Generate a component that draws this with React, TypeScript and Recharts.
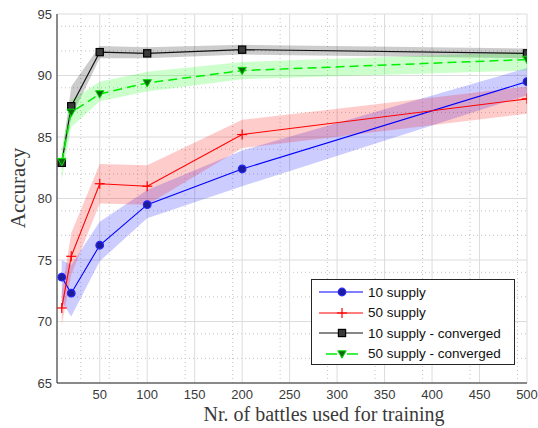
import { ComposedChart, Line, Area, XAxis, YAxis, CartesianGrid, Label } from 'recharts';

const BATTLES = [10, 20, 50, 100, 200, 500];

const SUP10 = [73.6, 72.3, 76.2, 79.5, 82.4, 89.5];
const SUP10_LO = [71.6, 70.4, 74.9, 78.4, 81.0, 88.4];
const SUP10_HI = [75.0, 74.6, 78.1, 80.7, 83.9, 90.6];

const SUP50 = [71.1, 75.3, 81.2, 81.0, 85.2, 88.1];
const SUP50_LO = [69.7, 73.8, 79.6, 79.5, 84.1, 86.9];
const SUP50_HI = [72.4, 77.2, 82.8, 82.7, 86.4, 89.1];

const SUP10_CONV = [82.9, 87.5, 91.9, 91.8, 92.1, 91.8];
const SUP10_CONV_LO = [82.4, 86.6, 91.4, 91.4, 91.7, 91.4];
const SUP10_CONV_HI = [83.4, 89.1, 92.4, 92.3, 92.5, 92.2];

const SUP50_CONV = [83.0, 87.0, 88.5, 89.4, 90.4, 91.3];
const SUP50_CONV_LO = [81.5, 85.8, 87.9, 88.7, 89.7, 90.4];
const SUP50_CONV_HI = [84.1, 88.0, 89.5, 90.3, 91.1, 91.9];

const X_TICKS = [50, 100, 150, 200, 250, 300, 350, 400, 450, 500];
const Y_TICKS = [65, 70, 75, 80, 85, 90, 95];
const X_MINOR = [10, 20, 30, 40, 60, 70, 80, 90, 110, 120, 130, 140, 160, 170, 180, 190, 210, 220, 230, 240, 260, 270, 280, 290, 310, 320, 330, 340, 360, 370, 380, 390, 410, 420, 430, 440, 460, 470, 480, 490];
const Y_MINOR = [66, 67, 68, 69, 71, 72, 73, 74, 76, 77, 78, 79, 81, 82, 83, 84, 86, 87, 88, 89, 91, 92, 93, 94];

const data = BATTLES.map((b, i) => ({
  b,
  s10: SUP10[i],
  s10Band: [SUP10_LO[i], SUP10_HI[i]],
  s50: SUP50[i],
  s50Band: [SUP50_LO[i], SUP50_HI[i]],
  c10: SUP10_CONV[i],
  c10Band: [SUP10_CONV_LO[i], SUP10_CONV_HI[i]],
  c50: SUP50_CONV[i],
  c50Band: [SUP50_CONV_LO[i], SUP50_CONV_HI[i]],
}));

type Kind = 'circle' | 'plus' | 'square' | 'triangle';

function Marker({ kind, x, y }: { kind: Kind; x: number; y: number }) {
  if (kind === 'circle') return <circle cx={x} cy={y} r={3.8} fill="#1c1c9c" stroke="#2525ff" strokeWidth={1.2} />;
  if (kind === 'plus')
    return (
      <g stroke="#ff0000" strokeWidth={1.2}>
        <line x1={x - 5} y1={y} x2={x + 5} y2={y} />
        <line x1={x} y1={y - 5} x2={x} y2={y + 5} />
      </g>
    );
  if (kind === 'square') return <rect x={x - 3.6} y={y - 3.6} width={7.2} height={7.2} fill="#3a3a3a" stroke="#000" strokeWidth={1.2} />;
  return <path d={`M${x - 4.2},${y - 3.2} L${x + 4.2},${y - 3.2} L${x},${y + 4.2} Z`} fill="#0b6b0b" stroke="#00dd00" strokeWidth={1} />;
}

const SERIES = [
  { key: 's10', band: 's10Band', name: '10 supply', color: '#0000ff', fill: '#0000ff', marker: 'circle' as Kind, dash: undefined as string | undefined },
  { key: 's50', band: 's50Band', name: '50 supply', color: '#ff0000', fill: '#ff0000', marker: 'plus' as Kind, dash: undefined },
  { key: 'c10', band: 'c10Band', name: '10 supply - converged', color: '#111111', fill: '#000000', marker: 'square' as Kind, dash: undefined },
  { key: 'c50', band: 'c50Band', name: '50 supply - converged', color: '#00ee00', fill: '#00ff00', marker: 'triangle' as Kind, dash: '9 5' },
];

const TICK = { fontSize: 13, fill: '#3a3a3a', fontFamily: 'Liberation Sans, Arial, sans-serif' };

function LegendBox() {
  return (
    <div style={{ position: 'absolute', left: 311, top: 279, width: 204, height: 86, boxSizing: 'border-box', border: '1px solid #262626', background: '#fff', fontFamily: 'Liberation Sans, Arial, sans-serif', fontSize: 13.5, color: '#111' }}>
      {SERIES.map((s) => (
        <div key={s.key} style={{ display: 'flex', alignItems: 'center', height: 20.5, marginTop: s.key === 's10' ? 2 : 0 }}>
          <svg width={56} height={16} style={{ flex: 'none' }}>
            <line x1={s.dash ? 14 : 7} y1={8} x2={51} y2={8} stroke={s.color} strokeWidth={s.dash ? 1.5 : 1.2} strokeDasharray={s.dash ? '11 10' : undefined} />
            <Marker kind={s.marker} x={30} y={8} />
          </svg>
          <span>{s.name}</span>
        </div>
      ))}
    </div>
  );
}

export default function App() {
  return (
    <div style={{ position: 'absolute', left: 0, top: 0, width: 538, height: 428, background: '#fff' }}>
      <ComposedChart width={538} height={428} data={data} margin={{ top: 14, right: 11, left: 0, bottom: 0 }}>
        <CartesianGrid stroke="#c4c4c4" strokeDasharray="1 3" horizontalValues={Y_MINOR} verticalValues={X_MINOR} />
        <CartesianGrid stroke="#dcdcdc" />
        <XAxis
          dataKey="b"
          type="number"
          domain={[5, 500]}
          ticks={X_TICKS}
          height={45}
          tick={TICK}
          tickLine={false}
          tickMargin={1}
          axisLine={{ stroke: '#262626' }}
          allowDataOverflow
        >
          <Label
            content={() => (
              <text x={324} y={421} textAnchor="middle" fontFamily="Liberation Serif, Times New Roman, serif" fontSize={20} fill="#3a3a3a">
                Nr. of battles used for training
              </text>
            )}
          />
        </XAxis>
        <XAxis xAxisId="top" orientation="top" type="number" domain={[5, 500]} height={0} tick={false} tickLine={false} axisLine={{ stroke: '#262626' }} />
        <YAxis
          type="number"
          domain={[65, 95]}
          ticks={Y_TICKS}
          width={57}
          tick={TICK}
          tickLine={false}
          tickSize={3}
          tickMargin={2}
          axisLine={{ stroke: '#262626' }}
          allowDataOverflow
        >
          <Label
            content={() => (
              <text x={18} y={188} transform="rotate(-90 18 188)" textAnchor="middle" dominantBaseline="central" fontFamily="Liberation Serif, Times New Roman, serif" fontSize={21} fill="#3a3a3a">
                Accuracy
              </text>
            )}
          />
        </YAxis>
        <YAxis yAxisId="right" orientation="right" type="number" domain={[65, 95]} width={0} tick={false} tickLine={false} axisLine={{ stroke: '#262626' }} />

        {SERIES.map((s) => (
          <Area
            key={s.band}
            dataKey={s.band}
            type="linear"
            stroke="none"
            fill={s.fill}
            fillOpacity={0.2}
            legendType="none"
            isAnimationActive={false}
          />
        ))}
        {SERIES.map((s) => (
          <Line
            key={s.key}
            dataKey={s.key}
            name={s.name}
            type="linear"
            stroke={s.color}
            strokeWidth={s.dash ? 1.5 : 1.1}
            strokeDasharray={s.dash}
            dot={(p: any) => <Marker key={`${s.key}-${p.index}`} kind={s.marker} x={p.cx} y={p.cy} />}
            activeDot={false}
            isAnimationActive={false}
          />
        ))}
      </ComposedChart>
      <LegendBox />
    </div>
  );
}
